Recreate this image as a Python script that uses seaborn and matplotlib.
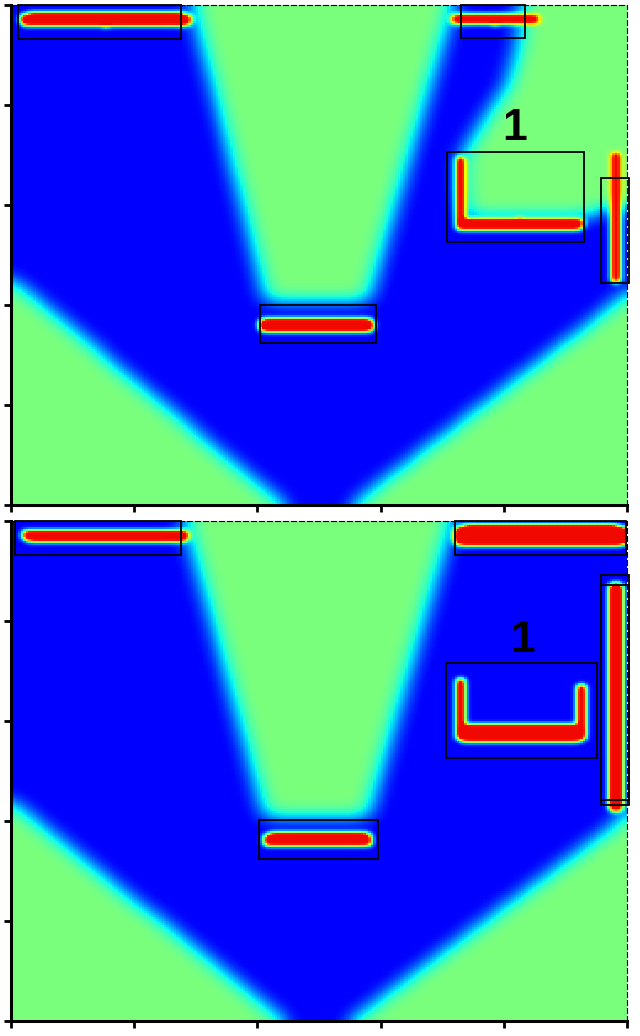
import numpy as np
import matplotlib
matplotlib.use("Agg")
import matplotlib.pyplot as plt
import seaborn as sns
from matplotlib.path import Path
from matplotlib.patches import Rectangle

# field levels (jet colormap, 0..1)
green_level = 0.5
blue_level = 0.12
red_level = 0.9

# shapes, in axis units: x 0..5 left->right, d 0..5 top->bottom
top_green = [
    [(1.47, 0.0), (3.59, 0.0), (2.90, 2.95), (2.07, 2.95)],
    [(4.15, 0.0), (5.0, 0.0), (5.0, 2.0), (4.84, 2.02), (4.68, 2.12),
     (3.68, 2.12), (3.65, 1.52), (3.80, 1.22), (4.03, 0.78), (4.12, 0.38)],
    [(0.0, 2.72), (2.22, 5.0), (0.0, 5.0)],
    [(2.76, 5.0), (4.88, 3.0), (5.0, 2.85), (5.0, 5.0)],
]
bottom_green = [
    [(1.41, 0.0), (3.58, 0.0), (2.90, 2.95), (2.06, 2.95)],
    [(0.0, 2.80), (2.24, 5.0), (0.0, 5.0)],
    [(2.75, 5.0), (4.88, 3.05), (5.0, 2.88), (5.0, 5.0)],
]

# red strips: x0, x1, d0, d1
top_red = [
    (0.08, 1.46, 0.08, 0.21),
    (3.58, 4.28, 0.09, 0.19),
    (2.02, 2.94, 3.13, 3.27),
    (3.62, 3.69, 1.52, 2.24),
    (3.62, 4.64, 2.13, 2.24),
    (4.87, 4.95, 1.48, 2.77),
]
bottom_red = [
    (0.10, 1.45, 0.09, 0.20),
    (3.60, 5.00, 0.04, 0.25),
    (2.06, 2.93, 3.12, 3.25),
    (3.62, 3.69, 1.57, 2.19),
    (4.59, 4.67, 1.64, 2.15),
    (3.62, 4.67, 2.04, 2.20),
    (4.85, 4.97, 0.62, 2.90),
]

# black boxes: x0, x1, d0, d1
top_boxes = [
    (0.06, 1.38, 0.0, 0.34),
    (3.65, 4.17, 0.0, 0.33),
    (3.54, 4.65, 1.47, 2.37),
    (4.79, 5.02, 1.73, 2.78),
    (2.02, 2.96, 3.00, 3.38),
]
bottom_boxes = [
    (0.03, 1.38, 0.0, 0.34),
    (3.60, 4.99, 0.0, 0.34),
    (3.53, 4.76, 1.42, 2.37),
    (4.79, 5.02, 0.54, 2.79),
    (4.79, 5.02, 0.64, 2.84),
    (2.01, 2.98, 2.99, 3.38),
]

top_label = (4.09, 1.23, "1")
bottom_label = (4.15, 1.20, "1")

N = 250
s = N / 5.0


def blur(a, sig):
    r = int(3 * sig) + 1
    k = np.exp(-0.5 * (np.arange(-r, r + 1) / sig) ** 2)
    k /= k.sum()
    a = np.pad(a, r, mode="edge")
    a = np.apply_along_axis(lambda v: np.convolve(v, k, mode="valid"), 0, a)
    a = np.apply_along_axis(lambda v: np.convolve(v, k, mode="valid"), 1, a)
    return a


def build_field(greens, reds):
    c = (np.arange(N) + 0.5) / s
    X, D = np.meshgrid(c, c)
    pts = np.column_stack([X.ravel(), D.ravel()])
    base = np.full((N, N), blue_level)
    for poly in greens:
        m = Path(poly).contains_points(pts).reshape(N, N)
        base[m] = green_level
    base = blur(base, 4.2)
    red = np.zeros((N, N))
    for x0, x1, d0, d1 in reds:
        cx, cd = (x0 + x1) / 2, (d0 + d1) / 2
        a, b = (x1 - x0) / 2, (d1 - d0) / 2
        red[np.abs((X - cx) / a) ** 6 + np.abs((D - cd) / b) ** 6 <= 1] = 1.0
    red = np.clip(blur(red, 1.3) * 1.5, 0, 1)
    return base + (red_level - base) * red


def draw_panel(ax, greens, reds, boxes, label):
    field = build_field(greens, reds)
    sns.heatmap(field, cmap="jet", vmin=0, vmax=1, cbar=False, ax=ax,
                xticklabels=False, yticklabels=False)
    for x0, x1, d0, d1 in boxes:
        ax.add_patch(Rectangle((x0 * s, d0 * s), (x1 - x0) * s, (d1 - d0) * s,
                               fill=False, ec="black", lw=1.3, clip_on=False))
    ax.text(label[0] * s, label[1] * s, label[2], ha="center", va="center",
            fontsize=32, fontweight="bold", family="Liberation Sans")
    ax.set_xticks(np.arange(6) * s)
    ax.set_yticks(np.arange(6) * s)
    ax.tick_params(direction="out", length=5, width=2, bottom=True, left=True,
                   labelbottom=False, labelleft=False)
    for side, spine in ax.spines.items():
        spine.set_visible(True)
        if side in ("top", "right"):
            spine.set_linewidth(0.8)
            spine.set_linestyle((0, (4.5, 2.7)))
        else:
            spine.set_linewidth(2.2)


fig = plt.figure(figsize=(6.4, 10.36), dpi=100)
ax1 = fig.add_axes([11 / 640, 1 - 505 / 1036, 616 / 640, 500 / 1036])
ax2 = fig.add_axes([11 / 640, 1 - 1020.5 / 1036, 616 / 640, 500 / 1036])

draw_panel(ax1, top_green, top_red, top_boxes, top_label)
draw_panel(ax2, bottom_green, bottom_red, bottom_boxes, bottom_label)

fig.savefig("out.png", dpi=100)
